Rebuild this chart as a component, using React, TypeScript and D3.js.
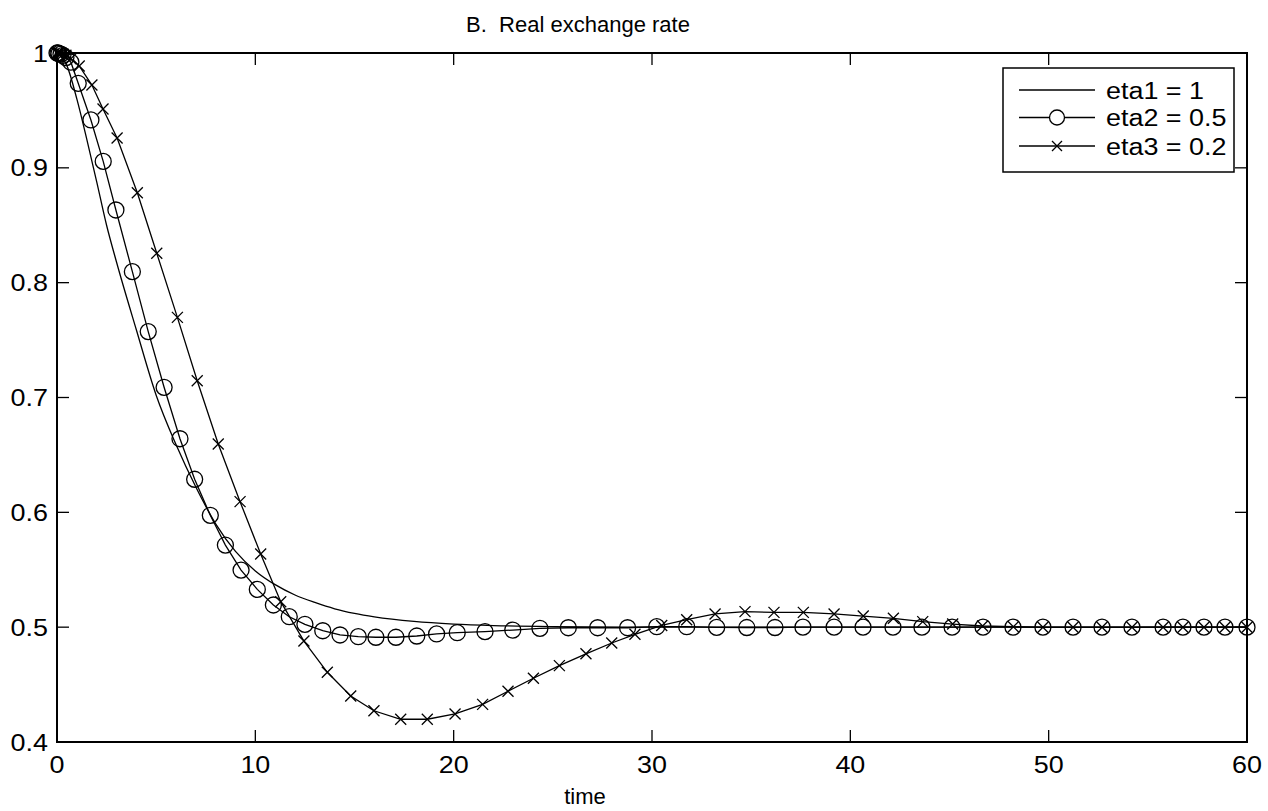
import { useEffect } from 'react';
import * as d3 from 'd3';

// eta1 = 1 (solid line, no markers)
const tEta1 = [0, 0.5, 1, 1.5, 2, 2.5, 3, 4, 5, 6, 7, 8, 9, 10, 11, 12, 13, 14, 15, 16, 18, 20, 22, 25, 30, 40, 50, 60];
const eta1 = [1, 0.989, 0.96, 0.925, 0.888, 0.85, 0.818, 0.759, 0.702, 0.659, 0.622, 0.59, 0.566, 0.549, 0.537, 0.528, 0.5215, 0.516, 0.512, 0.509, 0.505, 0.5027, 0.5014, 0.5005, 0.5, 0.5, 0.5, 0.5];

// eta2 = 0.5 (circles)
const tEta2 = [0, 0.05, 0.1, 0.2, 0.3, 0.45, 0.7, 1.07, 1.71, 2.33, 2.97, 3.8, 4.6, 5.4, 6.2, 6.94, 7.73, 8.49, 9.28, 10.1, 10.91, 11.71, 12.5, 13.4, 14.27, 15.19, 16.08, 17.09, 18.14, 19.14, 20.18, 21.58, 22.98, 24.35, 25.78, 27.26, 28.77, 30.24, 31.75, 33.26, 34.78, 36.2, 37.61, 39.18, 40.64, 42.15, 43.61, 45.13, 46.69, 48.2, 49.71, 51.23, 52.69, 54.2, 55.77, 56.77, 57.83, 58.89, 60];
const eta2 = [1, 1, 0.9995, 0.999, 0.998, 0.996, 0.992, 0.9736, 0.9417, 0.9056, 0.8633, 0.8096, 0.7574, 0.7089, 0.6641, 0.6288, 0.5974, 0.5715, 0.5497, 0.5329, 0.5193, 0.5091, 0.5025, 0.4969, 0.4932, 0.4917, 0.4912, 0.4912, 0.4923, 0.4941, 0.4952, 0.4961, 0.4975, 0.499, 0.4995, 0.4995, 0.4995, 0.5004, 0.5004, 0.4998, 0.4997, 0.4997, 0.5, 0.5, 0.5, 0.5, 0.5, 0.5, 0.5, 0.5, 0.5, 0.5, 0.5, 0.5, 0.5, 0.5, 0.5, 0.5, 0.5];

// eta3 = 0.2 (crosses)
const tEta3 = [0, 0.05, 0.1, 0.2, 0.3, 0.45, 0.7, 1.12, 1.76, 2.32, 3.03, 4.05, 5.03, 6.07, 7.07, 8.13, 9.23, 10.27, 11.28, 12.45, 13.63, 14.81, 15.98, 17.33, 18.67, 20.07, 21.46, 22.74, 24.02, 25.33, 26.67, 27.97, 29.14, 30.49, 31.75, 33.18, 34.69, 36.15, 37.63, 39.18, 40.65, 42.17, 43.65, 45.16, 46.67, 48.22, 49.71, 51.23, 52.69, 54.2, 55.77, 56.77, 57.83, 58.89, 60];
const eta3 = [1, 1, 1, 0.9995, 0.999, 0.998, 0.995, 0.9887, 0.9721, 0.9512, 0.926, 0.8783, 0.8256, 0.7698, 0.7146, 0.6595, 0.6093, 0.5637, 0.5222, 0.4879, 0.4607, 0.44, 0.4272, 0.4198, 0.4198, 0.4244, 0.4328, 0.4442, 0.4555, 0.4665, 0.4768, 0.4862, 0.4938, 0.5015, 0.5065, 0.5115, 0.5135, 0.5129, 0.5129, 0.5115, 0.5097, 0.5077, 0.5048, 0.5027, 0.501, 0.5004, 0.4999, 0.4999, 0.4999, 0.4999, 0.5, 0.5, 0.5, 0.5, 0.5];

const xTicks = [0, 10, 20, 30, 40, 50, 60];
const yTicks = [0.4, 0.5, 0.6, 0.7, 0.8, 0.9, 1];
const legendLabels = ['eta1 = 1', 'eta2 = 0.5', 'eta3 = 0.2'];

const FONT = '"Liberation Sans", Arial, Helvetica, sans-serif';
const FS = 23;
const SX = 1.17; // tick/legend text looks horizontally stretched in the reference

function Txt({ x, y, anchor = 'start', sx = SX, fs = FS, children }: { x: number; y: number; anchor?: string; sx?: number; fs?: number; children: any }) {
  return (
    <text transform={`translate(${x},${y}) scale(${sx},1)`} textAnchor={anchor}
      fontFamily={FONT} fontSize={fs} fill="#000" style={{ whiteSpace: 'pre' }}>{children}</text>
  );
}

function Cross({ cx, cy, s = 5.5 }: { cx: number; cy: number; s?: number }) {
  return (
    <path d={`M${cx - s},${cy - s}L${cx + s},${cy + s}M${cx - s},${cy + s}L${cx + s},${cy - s}`}
      stroke="#000" strokeWidth={1.3} fill="none" />
  );
}

export default function App() {
  useEffect(() => {
    document.body.style.margin = '0';
  }, []);

  const W = 1268, H = 811;
  const left = 57, right = 1247, top = 53, bottom = 742;
  const x = d3.scaleLinear().domain([0, 60]).range([left, right]);
  const y = d3.scaleLinear().domain([0.4, 1]).range([bottom, top]);

  const mk = (ts: number[], vs: number[]) => ts.map((t, i) => [t, vs[i]] as [number, number]);
  const d1 = mk(tEta1, eta1), d2 = mk(tEta2, eta2), d3s = mk(tEta3, eta3);

  const smooth = d3.line<[number, number]>().x(d => x(d[0])).y(d => y(d[1])).curve(d3.curveMonotoneX);
  const straight = d3.line<[number, number]>().x(d => x(d[0])).y(d => y(d[1]));

  const tl = 12;
  const lx = 1003, ly = 68, lw = 231, lh = 104;
  const rows = [90, 117.5, 146];

  return (
    <svg width={W} height={H} style={{ display: 'block', background: '#fff' }}>
      <rect x={0} y={0} width={W} height={H} fill="#fff" />

      {/* data */}
      <path d={smooth(d1) || ''} fill="none" stroke="#000" strokeWidth={1.3} />
      <path d={straight(d2) || ''} fill="none" stroke="#000" strokeWidth={1.3} />
      <path d={straight(d3s) || ''} fill="none" stroke="#000" strokeWidth={1.3} />
      {d2.map((d, i) => (
        <circle key={'c' + i} cx={x(d[0])} cy={y(d[1])} r={8} fill="none" stroke="#000" strokeWidth={1.3} />
      ))}
      {d3s.map((d, i) => <Cross key={'x' + i} cx={x(d[0])} cy={y(d[1])} />)}

      {/* axes box + ticks */}
      <rect x={left} y={top} width={right - left} height={bottom - top} fill="none" stroke="#000" strokeWidth={2} />
      {xTicks.map(t => (
        <g key={'xt' + t}>
          <line x1={x(t)} x2={x(t)} y1={bottom} y2={bottom - tl} stroke="#000" strokeWidth={1.3} />
          <line x1={x(t)} x2={x(t)} y1={top} y2={top + tl} stroke="#000" strokeWidth={1.3} />
          <Txt x={x(t)} y={bottom + 31} anchor="middle">{t}</Txt>
        </g>
      ))}
      {yTicks.map(t => (
        <g key={'yt' + t}>
          <line x1={left} x2={left + tl} y1={y(t)} y2={y(t)} stroke="#000" strokeWidth={1.3} />
          <line x1={right} x2={right - tl} y1={y(t)} y2={y(t)} stroke="#000" strokeWidth={1.3} />
          <Txt x={left - 9} y={y(t) + 8.5} anchor="end">{d3.format('~g')(t)}</Txt>
        </g>
      ))}

      {/* labels */}
      <Txt x={578} y={32} anchor="middle" sx={1} fs={22}>{'B.  Real exchange rate'}</Txt>
      <Txt x={585} y={804} anchor="middle" sx={1} fs={22}>time</Txt>

      {/* legend */}
      <rect x={lx} y={ly} width={lw} height={lh} fill="#fff" stroke="#000" strokeWidth={1.5} />
      {rows.map((ry, i) => (
        <g key={'lg' + i}>
          <line x1={1019} x2={1095} y1={ry} y2={ry} stroke="#000" strokeWidth={1.3} />
          {i === 1 && <circle cx={1057} cy={ry} r={7.5} fill="#fff" stroke="#000" strokeWidth={1.3} />}
          {i === 2 && <Cross cx={1057} cy={ry} s={5} />}
          <Txt x={1106} y={ry + 8.5}>{legendLabels[i]}</Txt>
        </g>
      ))}
    </svg>
  );
}
